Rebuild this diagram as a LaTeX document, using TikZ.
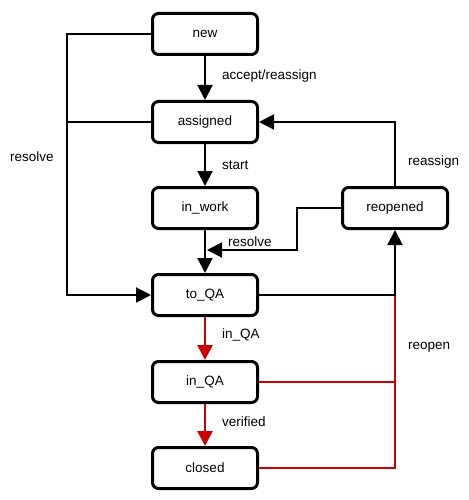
\documentclass[tikz,border=0pt]{standalone}
\usepackage{fontspec}
\setmainfont{Liberation Sans}
\usetikzlibrary{arrows.meta}
\definecolor{qared}{RGB}{204,0,0}
\begin{document}
\begin{tikzpicture}[x=1pt,y=-1pt,
  state/.style={draw=black,rounded corners=6pt,line width=3pt,minimum width=105pt,minimum height=41pt,inner sep=0pt,fill=white,font=\fontsize{13.5}{15}\selectfont},
  lbl/.style={anchor=west,inner sep=0pt,font=\fontsize{13.5}{15}\selectfont},
  conn/.style={line width=2pt,draw=black},
  arr/.style={conn,-{Triangle[length=15pt,width=15pt]}},
  redarr/.style={line width=2.7pt,draw=qared,-{Triangle[length=15pt,width=15pt]}},
  redline/.style={line width=1.8pt,draw=qared}]
\useasboundingbox (0,0) rectangle (468,500);
\node[state] (new) at (205,34) {new};
\node[state] (assigned) at (205,122) {assigned};
\node[state] (inwork) at (205,208) {in\_work};
\node[state] (toqa) at (205,295) {to\_QA};
\node[state] (inqa) at (205,382) {in\_QA};
\node[state] (closed) at (205,468) {closed};
\node[state] (reopened) at (395,208) {reopened};
\coordinate (lft) at (67,0);
\coordinate (rj) at (207,250);
\coordinate (jn) at (toqa.east -| reopened.south);
% red reopen lines
\draw[redline] (closed.east) -| (jn);
\draw[redline] (inqa.east) -- (inqa.east -| jn);
% black connectors
\draw[arr] (new.south) -- (assigned.north);
\draw[arr] (assigned.south) -- (inwork.north);
\draw[arr] (inwork.south) -- (toqa.north);
\draw[arr] (new.west) -- (new.west -| lft) -- (toqa.west -| lft) -- (toqa.west);
\draw[conn] (assigned.west) -- (assigned.west -| lft);
\draw[arr] (reopened.north) |- (assigned.east);
\draw[arr] (reopened.west) -- ++(-44,0) |- (rj);
\draw[arr] (toqa.east) -| (reopened.south);
% red connectors
\draw[redarr] (toqa.south) -- (inqa.north);
\draw[redarr] (inqa.south) -- (closed.north);
% labels
\node[lbl] (l1) at (222,76) {accept/reassign};
\node[lbl] (l2) at (222,165) {start};
\node[lbl] (l3) at (10,157) {resolve};
\node[lbl] (l4) at (408,162) {reassign};
\node[lbl] (l5) at (228,242) {resolve};
\node[lbl] (l6) at (222,335) {in\_QA};
\node[lbl] (l7) at (408,347) {reopen};
\node[lbl] (l8) at (222,422) {verified};
\end{tikzpicture}
\end{document}
